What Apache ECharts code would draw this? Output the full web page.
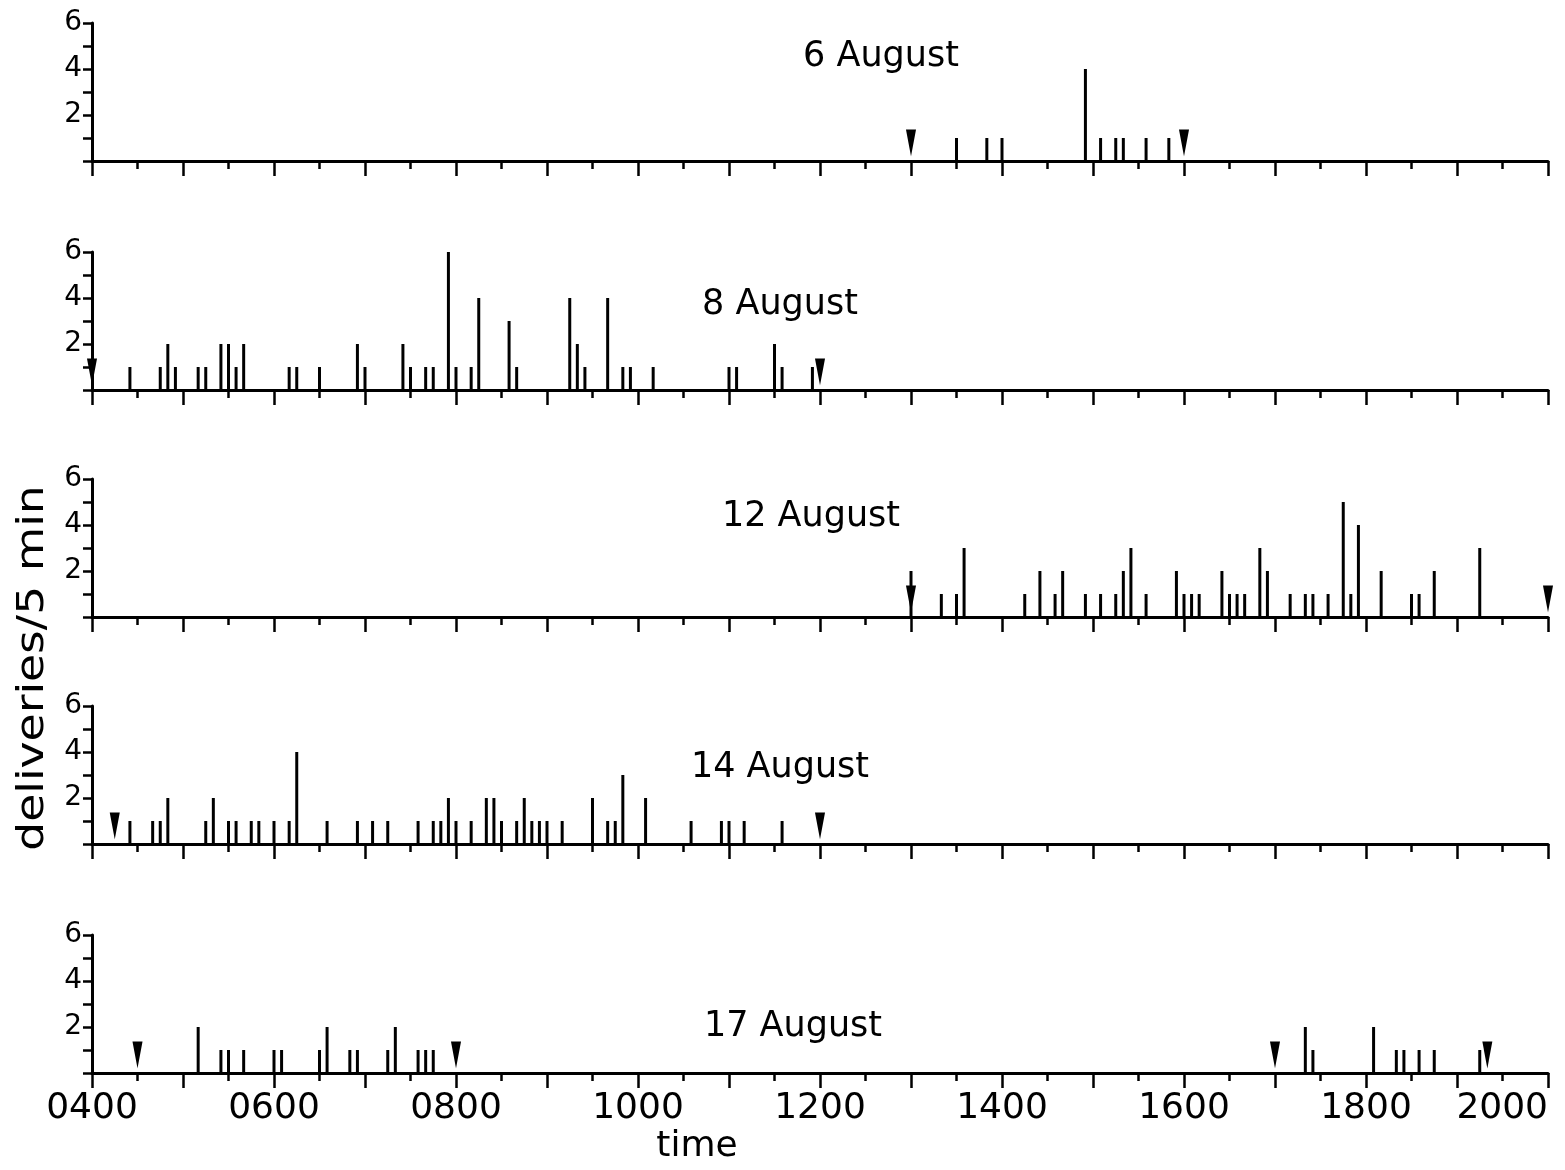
<!DOCTYPE html>
<html><head><meta charset="utf-8">
<script src="https://cdn.jsdelivr.net/npm/echarts@6/dist/echarts.min.js"></script>
<style>html,body{margin:0;padding:0;background:#fff}#c{width:1565px;height:1170px}</style>
</head><body><div id="c"></div>
<script>
// ---- data (times as HHMM clock strings, counts = deliveries per 5 min) ----
const panelTitles = ['6 August', '8 August', '12 August', '14 August', '17 August'];

const aug6Times  = ['1330','1350','1400','1455','1505','1515','1520','1535','1550'];
const aug6Counts = [1,1,1,4,1,1,1,1,1];
const aug6Marks  = ['1300','1600'];

const aug8Times  = ['0425','0445','0450','0455','0510','0515','0525','0530','0535','0540','0610','0615','0630','0655','0700','0725','0730','0740','0745','0755','0800','0810','0815','0835','0840','0915','0920','0925','0940','0950','0955','1010','1100','1105','1130','1135','1155'];
const aug8Counts = [1,1,2,1,1,1,2,2,1,2,1,1,1,2,1,2,1,1,1,6,1,1,4,3,1,4,2,1,4,1,1,1,1,1,2,1,1];
const aug8Marks  = ['0400','1200'];

const aug12Times  = ['1300','1320','1330','1335','1415','1425','1435','1440','1455','1505','1515','1520','1525','1535','1555','1600','1605','1610','1625','1630','1635','1640','1650','1655','1710','1720','1725','1735','1745','1750','1755','1810','1830','1835','1845','1915'];
const aug12Counts = [2,1,1,3,1,2,1,2,1,1,1,2,3,1,2,1,1,1,2,1,1,1,3,2,1,1,1,1,5,1,4,2,1,1,2,3];
const aug12Marks  = ['1300','2000'];

const aug14Times  = ['0425','0440','0445','0450','0515','0520','0530','0535','0545','0550','0600','0610','0615','0635','0655','0705','0715','0735','0745','0750','0755','0800','0810','0820','0825','0830','0840','0845','0850','0855','0900','0910','0930','0940','0945','0950','1005','1035','1055','1100','1110','1135'];
const aug14Counts = [1,1,1,2,1,2,1,1,1,1,1,1,4,1,1,1,1,1,1,1,2,1,1,2,2,1,1,2,1,1,1,1,2,1,1,3,2,1,1,1,1,1];
const aug14Marks  = ['0415','1200'];

const aug17Times  = ['0510','0525','0530','0540','0600','0605','0630','0635','0650','0655','0715','0720','0735','0740','0745','1720','1725','1805','1820','1825','1835','1845','1915'];
const aug17Counts = [2,1,1,1,1,1,1,2,1,1,1,2,1,1,1,2,1,2,1,1,1,1,1];
const aug17Marks  = ['0430','0800','1700','1920'];

const xTickValues = [4,6,8,10,12,14,16,18,20];
const xTickLabels = ['0400','0600','0800','1000','1200','1400','1600','1800','2000'];
const yLabelValues = [2,4,6];
const xAxisTitle = 'time';
const yAxisTitle = 'deliveries/5 min';

const panels = [
  {times: aug6Times,  counts: aug6Counts,  marks: aug6Marks},
  {times: aug8Times,  counts: aug8Counts,  marks: aug8Marks},
  {times: aug12Times, counts: aug12Counts, marks: aug12Marks},
  {times: aug14Times, counts: aug14Counts, marks: aug14Marks},
  {times: aug17Times, counts: aug17Counts, marks: aug17Marks}
];

// ---- layout / style ----
const FONT = 'DejaVu Sans';
const gridTops = [23, 252, 479, 706, 935];
const gridH = 138;
const titlePos = [[881,57],[780,305],[811,517],[780,768],[793,1027]];
const toHours = s => +s.slice(0,2) + (+s.slice(2))/60;

const grids = [], xAxes = [], yAxes = [], series = [], graphics = [];
panels.forEach((p, i) => {
  const last = i === panels.length - 1;
  grids.push({left: 92, width: 1456, top: gridTops[i], height: gridH, outerBoundsMode: 'none', containLabel: false});
  xAxes.push({
    type: 'value', gridIndex: i, min: 4, max: 20, interval: 1,
    axisLine: {show: true, onZero: false, lineStyle: {color: '#000', width: 3}},
    axisTick: {show: true, length: 15, lineStyle: {color: '#000', width: 2.5}},
    minorTick: {show: true, splitNumber: 2, length: 8, lineStyle: {color: '#000', width: 2.5}},
    splitLine: {show: false}, minorSplitLine: {show: false},
    axisLabel: {
      show: last, margin: 18, color: '#000', fontFamily: FONT, fontSize: 36,
      alignMaxLabel: 'right',
      formatter: v => { const k = xTickValues.indexOf(v); return k >= 0 ? xTickLabels[k] : ''; }
    }
  });
  yAxes.push({
    type: 'value', gridIndex: i, min: 0, max: 6, interval: 1,
    axisLine: {show: true, onZero: false, lineStyle: {color: '#000', width: 3}},
    axisTick: {show: true, length: 9, lineStyle: {color: '#000', width: 2.5}},
    splitLine: {show: false},
    axisLabel: {
      margin: 10, color: '#000', fontFamily: FONT, fontSize: 28,
      formatter: v => yLabelValues.indexOf(v) >= 0 ? String(v) : ''
    }
  });
  series.push({
    type: 'bar', xAxisIndex: i, yAxisIndex: i, barWidth: 3,
    itemStyle: {color: '#000', opacity: 1}, silent: true, animation: false,
    data: p.times.map((t, k) => [toHours(t), p.counts[k]])
  });
  series.push({
    type: 'scatter', xAxisIndex: i, yAxisIndex: i, z: 5,
    symbol: 'path://M0 0L2 0L1 6Z', symbolSize: [10, 27], symbolOffset: [0, -18],
    itemStyle: {color: '#000', opacity: 1}, silent: true, animation: false,
    data: p.marks.map(t => [toHours(t), 0])
  });
  graphics.push({
    type: 'text', x: titlePos[i][0], y: titlePos[i][1],
    style: {text: panelTitles[i], fill: '#000', fontFamily: FONT, fontSize: 35, align: 'center', verticalAlign: 'middle'}
  });
});
graphics.push({
  type: 'text', x: 697, y: 1147,
  style: {text: xAxisTitle, fill: '#000', fontFamily: FONT, fontSize: 36, align: 'center', verticalAlign: 'middle'}
});
graphics.push({
  type: 'text', x: 33, y: 668, rotation: Math.PI/2, scaleX: 1.2,
  style: {text: yAxisTitle, fill: '#000', fontFamily: FONT, fontSize: 38, align: 'center', verticalAlign: 'middle'}
});

const chart = echarts.init(document.getElementById('c'), null, {renderer: 'canvas'});
chart.setOption({
  backgroundColor: '#fff',
  animation: false,
  grid: grids, xAxis: xAxes, yAxis: yAxes, series: series,
  graphic: graphics
});
</script></body></html>
